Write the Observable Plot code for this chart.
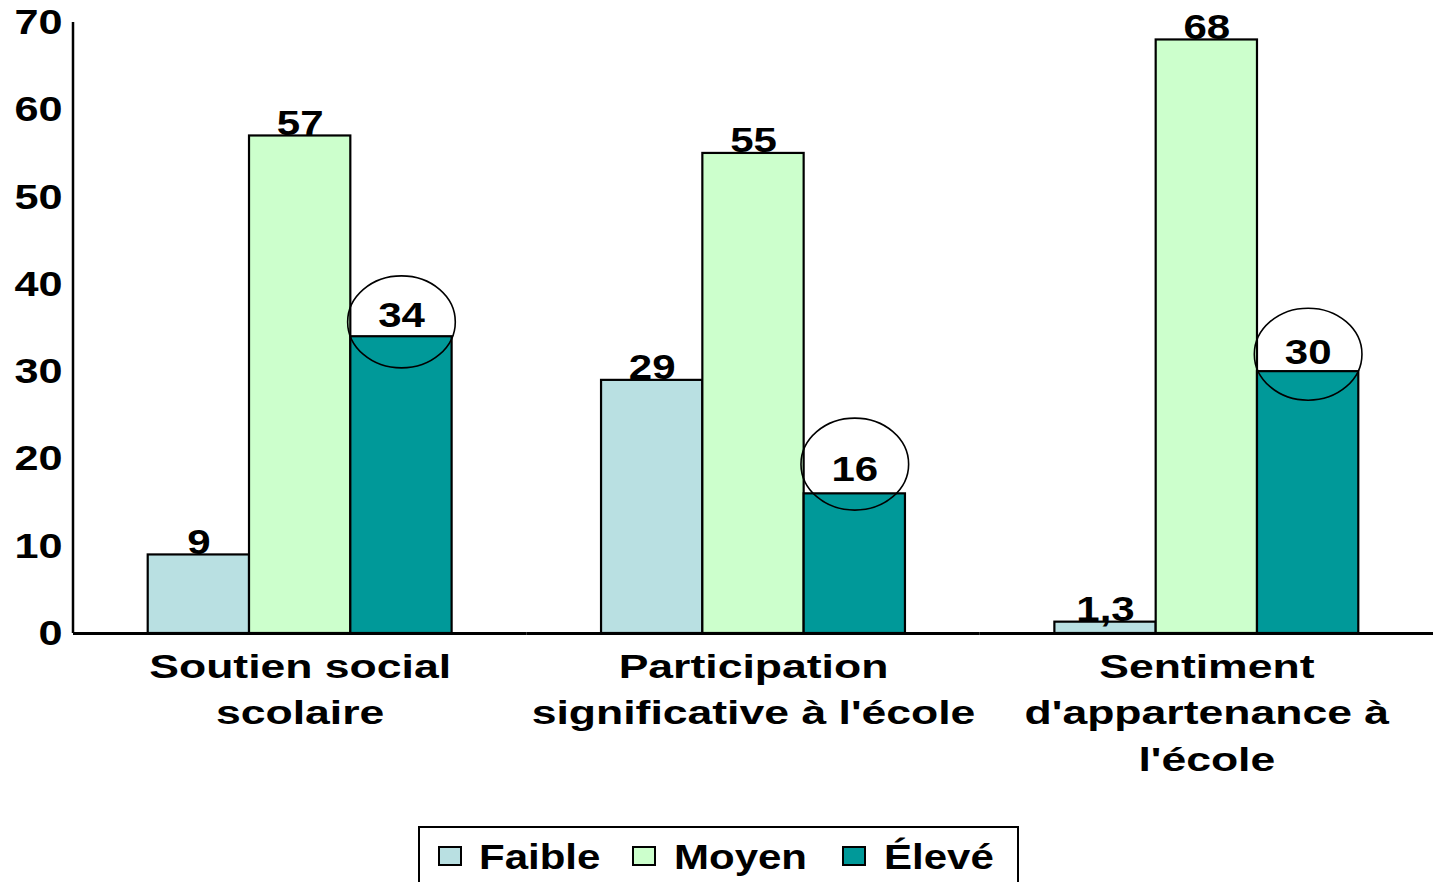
<!DOCTYPE html>
<html>
<head>
<meta charset="utf-8">
<script src="https://cdn.jsdelivr.net/npm/d3@7"></script>
<script src="https://cdn.jsdelivr.net/npm/@observablehq/plot@0.6"></script>
<style>
  body { margin: 0; background: #fff; font-family: "Liberation Sans", Arial, sans-serif; }
  #legend { position: relative; margin-left: 418px; margin-top: 16px; width: 601px; height: 64px; border: 2px solid #000; box-sizing: border-box; }
  #legend .sw { position: absolute; top: 18px; width: 24px; height: 20px; border: 2px solid #000; box-sizing: border-box; }
  #legend .lb { position: absolute; top: 9px; font-size: 35px; font-weight: bold; line-height: 40px; transform: scaleX(1.2); transform-origin: left center; white-space: nowrap; }
</style>
</head>
<body>
<div id="chart"></div>
<div id="legend"></div>
<script>
const categories = ["Soutien social\nscolaire", "Participation\nsignificative à l'école", "Sentiment\nd'appartenance à\nl'école"];
const series = ["Faible", "Moyen", "Élevé"];
const faible = [9, 29, 1.3];
const moyen = [57, 55, 68];
const eleve = [34, 16, 30];
const circleY = [35.7, 19.4, 32.0];      // centre of the hand-drawn ellipses (value units)
const circleLabelY = [36.5, 18.9, 32.3]; // centre of the circled labels (value units)
const colors = ["#B9E0E2", "#CCFFCC", "#009999"];
const yTicks = [0, 10, 20, 30, 40, 50, 60, 70];

const fmt = (v) => String(v).replace(".", ",");
const valuesBySeries = [faible, moyen, eleve];
const data = [];
categories.forEach((c, i) => {
  series.forEach((s, j) => {
    const v = valuesBySeries[j][i];
    data.push({cat: c, series: s, value: v, label: fmt(v)});
  });
});
const plainLabels = data.filter((d) => d.series !== "Élevé");
const circled = categories.map((c, i) => ({cat: c, series: "Élevé", y: circleY[i], ly: circleLabelY[i], label: fmt(eleve[i])}));

const ellipseSymbol = {
  draw(ctx, size) {
    const r = Math.sqrt(size / Math.PI);
    const rx = r * 1.17, ry = r, k = 0.5523;
    ctx.moveTo(rx, 0);
    ctx.bezierCurveTo(rx, ry * k, rx * k, ry, 0, ry);
    ctx.bezierCurveTo(-rx * k, ry, -rx, ry * k, -rx, 0);
    ctx.bezierCurveTo(-rx, -ry * k, -rx * k, -ry, 0, -ry);
    ctx.bezierCurveTo(rx * k, -ry, rx, -ry * k, rx, 0);
    ctx.closePath();
  }
};

const W = 1433, H = 810, mt = 22, mb = 177, ml = 73, mr = 0;

const chart = Plot.plot({
  width: W,
  height: H,
  marginTop: mt,
  marginBottom: mb,
  marginLeft: ml,
  marginRight: mr,
  style: {fontFamily: "'Liberation Sans', Arial, sans-serif", background: "#fff", color: "#000"},
  fx: {domain: categories, paddingInner: 0, paddingOuter: 0, round: false, label: null},
  x: {domain: series, paddingInner: 0, paddingOuter: 0.7375, round: false, axis: null},
  y: {domain: [0, 70], label: null},
  color: {domain: series, range: colors},
  marks: [
    Plot.axisY({ticks: yTicks, tickSize: 0, tickPadding: 11, fontSize: 36, fontWeight: "bold", label: null}),
    Plot.axisFx({anchor: "bottom", tickSize: 0, tickPadding: 11, fontSize: 34, fontWeight: "bold", lineHeight: 1.37, label: null}),
    Plot.barY(data, {fx: "cat", x: "series", y: "value", fill: "series", stroke: "#000", strokeWidth: 2.2}),
    Plot.ruleY([0], {stroke: "#000", strokeWidth: 3}),
    Plot.dot(circled, {fx: "cat", x: "series", y: "y", r: 46, symbol: ellipseSymbol, fill: "none", stroke: "#000", strokeWidth: 1.6}),
    Plot.text(plainLabels, {fx: "cat", x: "series", y: "value", text: "label", lineAnchor: "bottom", dy: -1, fontSize: 35, fontWeight: "bold", fill: "#000"}),
    Plot.text(circled, {fx: "cat", x: "series", y: "ly", text: "label", lineAnchor: "middle", dy: 1.3, fontSize: 35, fontWeight: "bold", fill: "#000"})
  ]
});

// stretch text horizontally to match the wide bold face of the original
d3.select(chart).selectAll("text").each(function() {
  const t = this;
  const g = t.closest("g[aria-label]");
  const isFx = g && /fx-axis/.test(g.getAttribute("aria-label"));
  const s = isFx ? 1.31 : 1.2;
  const x = +t.getAttribute("x") || 0;
  const tr = t.getAttribute("transform") || "";
  t.setAttribute("transform", `${tr} translate(${x},0) scale(${s},1) translate(${-x},0)`);
});

// y-axis line using the library's y scale
const ys = chart.scale("y");
const y0 = ys.apply ? ys.apply(0) : H - mb;
const yTop = ys.apply ? ys.apply(70) : mt;
d3.select(chart).append("line").attr("x1", ml).attr("x2", ml).attr("y1", yTop).attr("y2", y0)
  .attr("stroke", "#000").attr("stroke-width", 2.5);

document.getElementById("chart").appendChild(chart);

// legend
const legend = document.getElementById("legend");
const swLeft = [18, 212, 422];
const lbLeft = [59, 254, 464];
series.forEach((s, i) => {
  const sw = document.createElement("div");
  sw.className = "sw";
  sw.style.left = swLeft[i] + "px";
  sw.style.background = colors[i];
  legend.appendChild(sw);
  const lb = document.createElement("div");
  lb.className = "lb";
  lb.style.left = lbLeft[i] + "px";
  lb.textContent = s;
  legend.appendChild(lb);
});
</script>
</body>
</html>
